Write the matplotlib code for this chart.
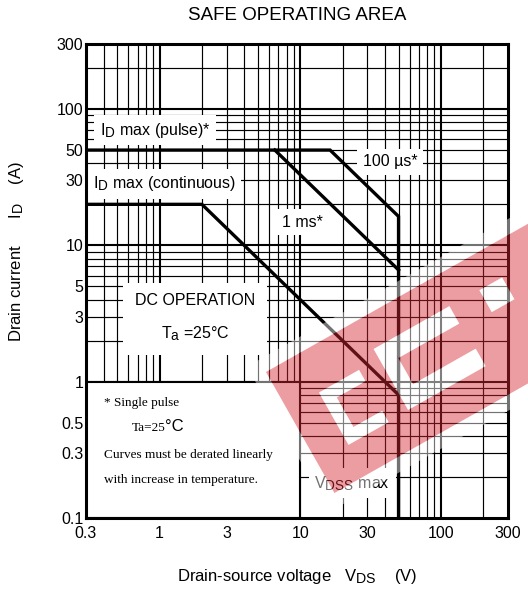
import numpy as np
import matplotlib
matplotlib.use('Agg')
import matplotlib.pyplot as plt
import matplotlib.transforms as mtransforms
from matplotlib.patches import Rectangle, PathPatch
from matplotlib.path import Path

plt.rcParams['font.family'] = ['Liberation Sans', 'DejaVu Sans']
plt.rcParams['mathtext.fontset'] = 'custom'
plt.rcParams['mathtext.rm'] = 'Liberation Sans'
plt.rcParams['mathtext.it'] = 'Liberation Sans'

# subscripts in the datasheet are almost full size
try:
    import matplotlib._mathtext as _mt
    _mt.SHRINK_FACTOR = 0.85
except Exception:
    pass

# --- Axis ticks ---
x_ticks = [0.3, 1, 3, 10, 30, 100, 300]
x_tick_labels = ['0.3', '1', '3', '10', '30', '100', '300']
y_ticks = [0.1, 0.3, 0.5, 1, 3, 5, 10, 30, 50, 100, 300]
y_tick_labels = ['0.1', '0.3', '0.5', '1', '3', '5', '10', '30', '50', '100', '300']

# --- SOA boundaries (V, A) ---
# ID max (pulse) -> 100 us line -> VDSS max
v_100us = [0.3, 16.3, 50, 50]
i_100us = [50, 50, 16.3, 0.1]
# 1 ms pulse
v_1ms = [6.6, 50]
i_1ms = [50, 6.6]
# DC operation (ID max continuous -> power limit)
v_dc = [0.3, 2.0, 50]
i_dc = [20, 20, 0.8]

W, H = 528, 591
fig = plt.figure(figsize=(W / 100, H / 100), dpi=100)
ax = fig.add_axes([86 / W, 1 - 518 / H, 422 / W, 474 / H])
ax.set_xscale('log')
ax.set_yscale('log')
ax.set_xlim(0.3, 300)
ax.set_ylim(0.1, 300)


def log_grid(lo, hi):
    out = []
    for e in range(-2, 4):
        for m in range(1, 10):
            v = round(m * 10.0 ** e, 6)
            if lo < v < hi:
                out.append((v, m == 1))
    return out


# grid drawn by hand: log paper look, decades slightly heavier
for v, major in log_grid(0.3, 300):
    ax.axvline(v, color='black', lw=1.5 if major else 0.85, zorder=1)
for v, major in log_grid(0.1, 300):
    ax.axhline(v, color='black', lw=1.5 if major else 0.85, zorder=1)

ax.set_xticks(x_ticks, x_tick_labels)
ax.set_yticks(y_ticks, y_tick_labels)
ax.set_xticks([], minor=True)
ax.set_yticks([], minor=True)
ax.tick_params(length=0, labelsize=11.5)
ax.tick_params(axis='x', pad=6)
ax.tick_params(axis='y', pad=2)
for sp in ax.spines.values():
    sp.set_linewidth(2.2)
    sp.set_zorder(6)

# curves
for vv, ii in [(v_100us, i_100us), (v_1ms, i_1ms), (v_dc, i_dc)]:
    ax.plot(vv, ii, color='black', lw=2.4, zorder=4, solid_joinstyle='miter')

# note area (bottom left)
ax.add_patch(Rectangle((0.3, 0.1), 10 - 0.3, 1 - 0.1, facecolor='white',
                       edgecolor='black', lw=1.5, zorder=2))
serif = dict(family='Liberation Serif', fontsize=9.5, ha='left', va='center', zorder=3)
ax.text(0.40, 0.70, '* Single pulse', **serif)
t_ta = ax.text(0.63, 0.457, 'Ta=25', **serif)
ax.annotate('°C', xy=(1, 0), xycoords=t_ta, va='bottom', ha='left', fontsize=12, zorder=3)
ax.text(0.40, 0.29, 'Curves must be derated linearly', **serif)
ax.text(0.40, 0.19, 'with increase in temperature.', **serif)

# labels on white boxes
bb = dict(boxstyle='square,pad=0.35', facecolor='white', edgecolor='none')
lab = dict(fontsize=11.5, va='center', zorder=3, bbox=bb)
ax.text(0.377, 70, r'$\mathregular{I_D}$ max (pulse)*', ha='left', **lab)
ax.text(0.335, 28.2, r'$\mathregular{I_D}$ max (continuous)', ha='left', **lab)
ax.text(43.4, 40.9, '100 µs*', ha='center', **lab)
ax.text(10.3, 14.8, '1 ms*', ha='center', **lab)
ax.text(23.4, 0.18, r'$\mathregular{V_{DSS}}$ max', ha='center', **lab)
ax.text(1.79, 2.93, 'DC OPERATION\n' + r'$\mathregular{T_a}$ =25°C', ha='center',
        va='center', fontsize=11.5, linespacing=2.1, multialignment='center', zorder=3,
        bbox=dict(boxstyle='square,pad=0.75', facecolor='white', edgecolor='none'))

# titles
fig.text(297 / W, 1 - 16 / H, 'SAFE OPERATING AREA', ha='center', va='center', fontsize=13.5)
fig.text(297 / W, 1 - 577 / H, r'Drain-source voltage   $\mathregular{V_{DS}}$    (V)',
         ha='center', va='center', fontsize=12)
fig.text(17 / W, 1 - 252 / H, r'Drain current      $\mathregular{I_D}$    (A)',
         ha='center', va='center', rotation=90, fontsize=12)

# --- watermark (rotated red band with light cut-outs) ---
px = mtransforms.Affine2D().scale(1 / W, -1 / H).translate(0, 1) + fig.transFigure
ang = np.deg2rad(29.5)
u = np.array([np.cos(ang), -np.sin(ang)])
n = np.array([np.sin(ang), np.cos(ang)])
p0 = np.array([266.0, 372.0])


def band_rect(t0, t1, s0, s1):
    return [p0 + t * u + s * n for t, s in [(t0, s0), (t1, s0), (t1, s1), (t0, s1)]]


def compound(outer, holes):
    verts, codes = [], []
    for poly, rev in [(outer, False)] + [(h, True) for h in holes]:
        pts = poly[::-1] if rev else poly
        verts += list(pts) + [pts[0]]
        codes += [Path.MOVETO] + [Path.LINETO] * (len(pts) - 1) + [Path.CLOSEPOLY]
    return Path(np.array(verts), codes)


band = band_rect(0, 420, 0, 139)
holes = [
    band_rect(36, 82, 44, 57), band_rect(36, 49, 57, 91), band_rect(36, 82, 91, 104),
    band_rect(105, 122, 33, 103), band_rect(122, 192, 33, 53), band_rect(122, 194, 83, 103),
    band_rect(226, 252, 34, 59),
]
halo = band_rect(-14, 434, -14, 153)

fig.add_artist(PathPatch(compound(halo, [band]), transform=px, facecolor='white',
                         edgecolor='none', alpha=0.45, zorder=10))
fig.add_artist(PathPatch(compound(band, holes), transform=px, facecolor='#d7262f',
                         edgecolor='none', alpha=0.45, zorder=10))
for h in holes:
    fig.add_artist(PathPatch(compound(h, []), transform=px, facecolor='white',
                             edgecolor='none', alpha=0.5, zorder=10))

fig.savefig('out.png', dpi=100)
